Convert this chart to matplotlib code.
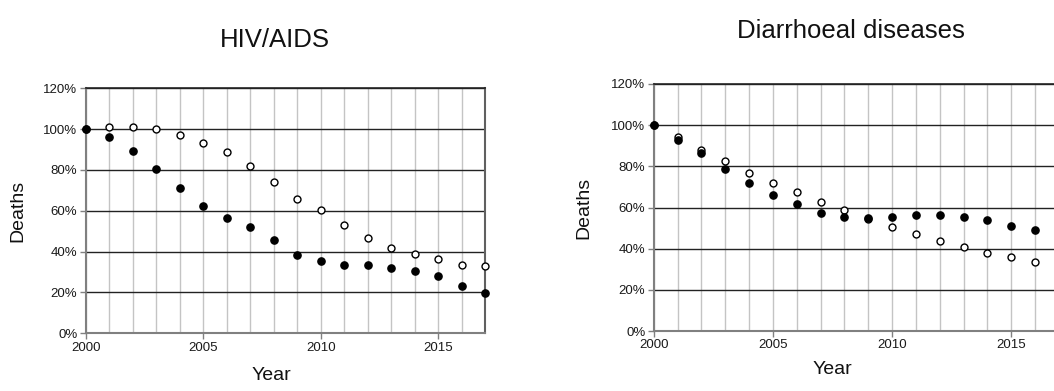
import matplotlib
matplotlib.use("Agg")
import matplotlib.pyplot as plt
from matplotlib.ticker import FixedLocator, PercentFormatter

plt.rcParams['font.family'] = ['Liberation Sans', 'DejaVu Sans']

# Deaths relative to the 2000 level (%)
hiv_years = list(range(2000, 2018))
hiv_filled = [100, 96.3, 89.1, 80.5, 71.0, 62.4, 56.7, 51.9, 45.7, 38.4,
              35.6, 33.5, 33.6, 32.2, 30.5, 28.1, 23.3, 19.6]
hiv_open = [100, 101.1, 101.1, 99.9, 97.3, 93.4, 88.7, 82.0, 74.1, 66.0,
            60.4, 53.2, 46.9, 42.0, 38.9, 36.2, 33.6, 32.8]

dia_years = list(range(2000, 2017))
dia_filled = [100, 92.6, 86.6, 78.7, 71.7, 66.2, 61.5, 57.2, 55.5, 55.1,
              55.4, 56.2, 56.2, 55.4, 53.8, 51.2, 48.9]
dia_open = [100, 94.1, 87.9, 82.4, 76.9, 71.9, 67.4, 62.8, 58.6, 54.6,
            50.7, 47.1, 43.6, 40.8, 38.1, 35.8, 33.7]

x_major = [2000, 2005, 2010, 2015]
y_ticks = [0, 20, 40, 60, 80, 100, 120]

W, H = 1054, 391
fig = plt.figure(figsize=(W / 100, H / 100), dpi=100)


def panel(rect, years, filled, opened, title, title_xy, ylab_x, xlab_xy):
    ax = fig.add_axes(rect)
    ax.set_xlim(2000, 2017)
    ax.set_ylim(0, 120)
    ax.xaxis.set_major_locator(FixedLocator(x_major))
    ax.xaxis.set_minor_locator(FixedLocator(list(range(2000, 2018))))
    ax.yaxis.set_major_locator(FixedLocator(y_ticks))
    ax.yaxis.set_major_formatter(PercentFormatter(decimals=0))
    ax.grid(which='both', axis='x', color='#c4c4c4', lw=1.0, zorder=0)
    ax.grid(which='major', axis='y', color='#222222', lw=1.0, zorder=1)
    ax.tick_params(which='minor', length=0)
    ax.tick_params(which='major', length=4, width=1, color='#808080',
                   labelsize=9.5, labelcolor='#1a1a1a', pad=2)
    for side in ('left', 'bottom'):
        ax.spines[side].set_color('#808080')
        ax.spines[side].set_linewidth(1.5)
    ax.spines['top'].set_color('#222222')
    ax.spines['top'].set_linewidth(1.2)
    ax.spines['right'].set_color('#606060')
    ax.spines['right'].set_linewidth(1.5)

    ax.plot(years, opened, 'o', ms=5.0, mfc='white', mec='black', mew=1.0,
            zorder=3, clip_on=False)
    ax.plot(years, filled, 'o', ms=5.2, mfc='black', mec='black', mew=1.0,
            zorder=4, clip_on=False)

    fig.text(title_xy[0] / W, 1 - title_xy[1] / H, title, fontsize=18.5,
             ha='center', va='center', color='#111111')
    fig.text(ylab_x / W, rect[1] + rect[3] / 2, 'Deaths', rotation=90,
             fontsize=14, ha='center', va='center', color='#111111')
    fig.text(xlab_xy[0] / W, 1 - xlab_xy[1] / H, 'Year', fontsize=14,
             ha='center', va='center', color='#111111')
    return ax


panel([85.7 / W, (H - 333.3) / H, 399.6 / W, 245 / H],
      hiv_years, hiv_filled, hiv_open, 'HIV/AIDS', (275, 40), 18, (271, 376))
panel([653.7 / W, (H - 331) / H, 405.3 / W, 247 / H],
      dia_years, dia_filled, dia_open, 'Diarrhoeal diseases', (851, 31), 584,
      (832, 369))

fig.savefig('out.png', dpi=100, facecolor='white')
